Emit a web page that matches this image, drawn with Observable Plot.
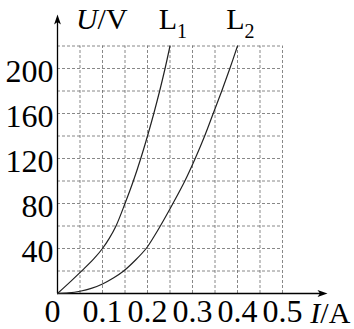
<!DOCTYPE html>
<html>
<head>
<meta charset="utf-8">
<script src="https://cdn.jsdelivr.net/npm/d3@7"></script>
<script src="https://cdn.jsdelivr.net/npm/@observablehq/plot@0.6"></script>
<style>
  html, body { margin: 0; padding: 0; background: #fff; }
</style>
</head>
<body>
<div id="chart"></div>
<script>
// Curve L1 (I in A, U in V)
const L1_I = [0, 0.03, 0.055, 0.08, 0.1, 0.115, 0.13, 0.15, 0.1685, 0.185, 0.2, 0.214, 0.227, 0.239, 0.25];
const L1_U = [0, 11, 20.5, 30.5, 40, 49, 60, 80, 100, 120, 140, 160, 180, 200, 220];
// Curve L2
const L2_I = [0, 0.025, 0.05, 0.075, 0.1, 0.125, 0.147, 0.174, 0.197, 0.2135, 0.2285, 0.2565, 0.283, 0.306, 0.327, 0.346, 0.365, 0.383, 0.4];
const L2_U = [0, 0.5, 2, 4.5, 8.5, 14, 20, 30, 40, 50, 60, 80, 100, 120, 140, 160, 180, 200, 220];
// Grid lines
const gridI = [0.05, 0.1, 0.15, 0.2, 0.25, 0.3, 0.35, 0.4, 0.45, 0.5];
const gridU = [20, 40, 60, 80, 100, 120, 140, 160, 180, 200, 220];
// Tick labels
const xTicks = [0.1, 0.2, 0.3, 0.4, 0.5];
const yTicks = [40, 80, 120, 160, 200];
// Axis extents (arrow tips)
const xMax = 0.6, yMax = 248;
const gridTopU = 220, gridRightI = 0.5;
// Curve name labels
const curveNames = [
  {name: "L", sub: "1", I: 0.25},
  {name: "L", sub: "2", I: 0.4}
];
const labelU = 235.5;

const l1 = L1_I.map((I, i) => ({I, U: L1_U[i]}));
const l2 = L2_I.map((I, i) => ({I, U: L2_U[i]}));

const arrowHead = {
  draw(ctx) {
    ctx.moveTo(0, 0);
    ctx.lineTo(3.4, 10);
    ctx.lineTo(0, 7.5);
    ctx.lineTo(-3.4, 10);
    ctx.closePath();
  }
};

const font = "Liberation Serif";
const fs = 32;

const chart = Plot.plot({
  width: 354,
  height: 329,
  marginLeft: 57,
  marginRight: 27,
  marginTop: 14,
  marginBottom: 36,
  x: {domain: [0, xMax], label: null},
  y: {domain: [0, yMax], label: null},
  style: {fontFamily: font, background: "white", color: "black", overflow: "visible"},
  marks: [
    Plot.ruleX(gridI, {x: d => d, y1: 0, y2: gridTopU, stroke: "#6a6a6a", strokeWidth: 0.8, strokeDasharray: "3,2"}),
    Plot.ruleY(gridU, {y: d => d, x1: 0, x2: gridRightI, stroke: "#6a6a6a", strokeWidth: 0.8, strokeDasharray: "3,2"}),
    Plot.ruleX([0], {y1: 0, y2: yMax - 6, stroke: "black", strokeWidth: 1.3}),
    Plot.ruleY([0], {x1: 0, x2: xMax - 0.012, stroke: "black", strokeWidth: 1.3}),
    Plot.dot([0], {x: 0, y: yMax, symbol: arrowHead, fill: "black", stroke: null, r: 5}),
    Plot.dot([0], {x: xMax, y: 0, symbol: arrowHead, fill: "black", stroke: null, r: 5, rotate: 90}),
    Plot.line(l1, {x: "I", y: "U", curve: "catmull-rom", stroke: "#222", strokeWidth: 1.2}),
    Plot.line(l2, {x: "I", y: "U", curve: "catmull-rom", stroke: "#222", strokeWidth: 1.2}),
    Plot.axisY({ticks: yTicks, label: null, tickSize: 0, tickPadding: 4, fontSize: fs, fontFamily: font, fontVariant: "normal", dy: 3, fill: "black"}),
    Plot.axisX({ticks: xTicks, label: null, tickSize: 0, tickPadding: 6, fontSize: fs, fontFamily: font, fontVariant: "normal", fill: "black", tickFormat: d => String(d)}),
    Plot.axisX({ticks: [0], label: null, tickSize: 0, tickPadding: 6, fontSize: fs, fontFamily: font, fontVariant: "normal", dx: -5, fill: "black", tickFormat: d => String(d)}),
    // axis titles
    Plot.text(["U"], {x: 0.089, y: labelU, text: d => d, textAnchor: "end", lineAnchor: "bottom", fontStyle: "italic", fontFamily: font, fontSize: 30, fill: "black"}),
    Plot.text(["/V"], {x: 0.089, y: labelU, text: d => d, textAnchor: "start", lineAnchor: "bottom", fontFamily: font, fontSize: 30, fill: "black"}),
    Plot.text(["I"], {x: 0.584, y: -25.8, text: d => d, textAnchor: "end", lineAnchor: "bottom", fontStyle: "italic", fontFamily: font, fontSize: 30, fill: "black"}),
    Plot.text(["/A"], {x: 0.584, y: -25.8, text: d => d, textAnchor: "start", lineAnchor: "bottom", fontFamily: font, fontSize: 30, fill: "black"}),
    // curve names
    Plot.text(curveNames, {x: "I", y: labelU, text: "name", dx: -2, textAnchor: "middle", lineAnchor: "bottom", fontFamily: font, fontSize: 30, fill: "black"}),
    Plot.text(curveNames, {x: "I", y: labelU, text: "sub", dx: 7, dy: 9, textAnchor: "start", lineAnchor: "bottom", fontFamily: font, fontSize: 20, fill: "black"})
  ]
});
document.getElementById("chart").appendChild(chart);
</script>
</body>
</html>
